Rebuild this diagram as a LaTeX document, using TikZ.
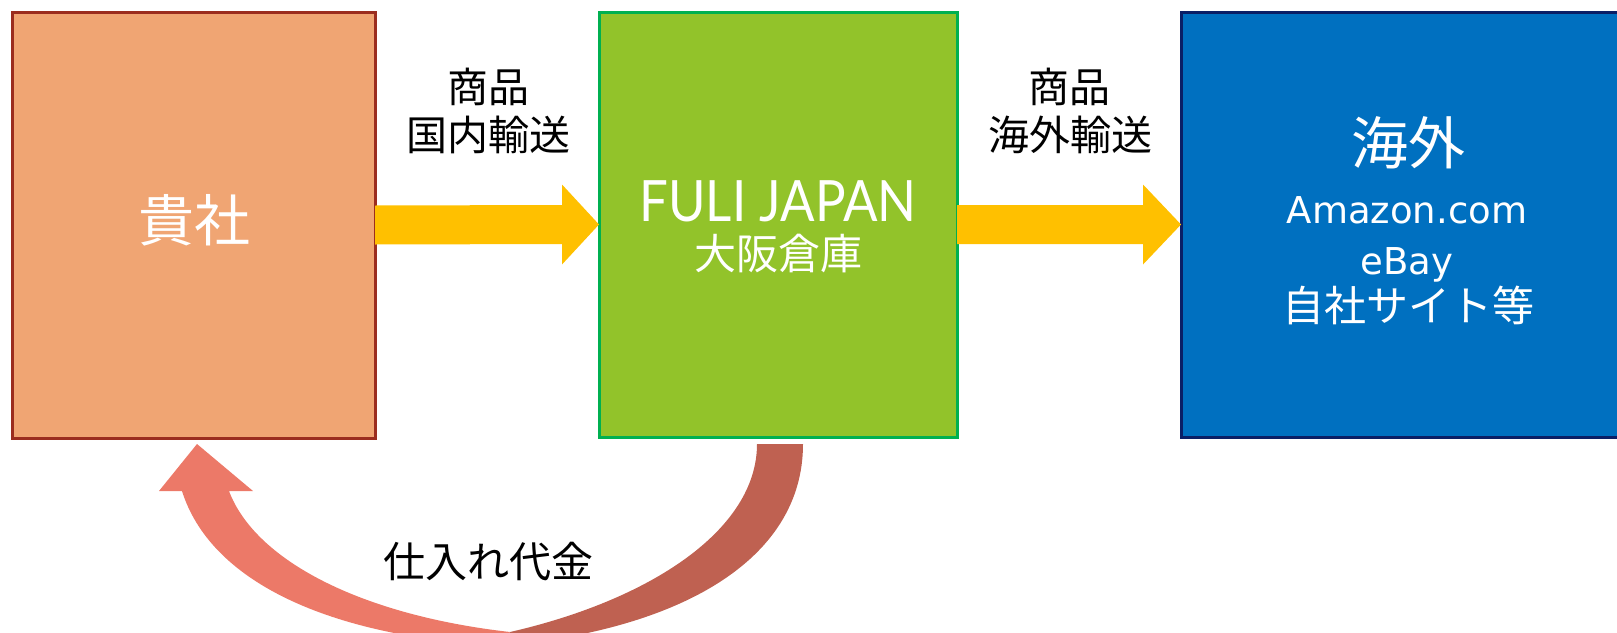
\documentclass[tikz,border=0pt]{standalone}
\usepackage{graphicx}
\usepackage{fontspec}
\setmainfont{Noto Sans CJK JP}
\newfontfamily\jpf{Noto Sans CJK JP}
\newfontfamily\latf{Lato}
\newfontfamily\dvf{DejaVu Sans}
\definecolor{peach}{HTML}{F0A573}
\definecolor{peachline}{HTML}{9B2D1F}
\definecolor{lgreen}{HTML}{92C32A}
\definecolor{gline}{HTML}{00B050}
\definecolor{blu}{HTML}{0070C0}
\definecolor{bline}{HTML}{0A1F66}
\definecolor{gold}{HTML}{FFC000}
\definecolor{arrlight}{HTML}{EC7968}
\definecolor{arrdark}{HTML}{BF6151}
\tikzset{
  boxbase/.style={rectangle, line width=3pt, inner sep=0pt, outer sep=0pt},
  wtext/.style={text=white, inner sep=0pt},
  btext/.style={text=black, inner sep=0pt},
}
\begin{document}
\begin{tikzpicture}[x=1pt,y=-1pt]
\path[use as bounding box] (0,0) rectangle (1617,632);
\clip (0,0) rectangle (1617,632);
% boxes
\node[boxbase, draw=peachline, fill=peach, minimum width=363pt, minimum height=426pt] (b1) at (193.5,225) {};
\node[boxbase, draw=gline, fill=lgreen, minimum width=358pt, minimum height=425pt] (b2) at (778,224.5) {};
\node[boxbase, draw=bline, fill=blu, minimum width=459pt, minimum height=425pt] (b3) at (1410.5,224.5) {};
% box texts
\node[wtext] (t1) at (194,220) {\jpf\fontsize{56}{60}\selectfont 貴社};
\node[wtext, anchor=base] (t2a) at (778,221) {\scalebox{0.895}[1]{\latf\fontsize{57}{60}\selectfont FULI JAPAN}};
\node[wtext] (t2b) at (778,254) {\jpf\fontsize{42}{46}\selectfont 大阪倉庫};
\node[wtext] (t3a) at (1408,143) {\jpf\fontsize{57}{60}\selectfont 海外};
\node[wtext, anchor=base] (t3b) at (1407,223) {\dvf\fontsize{37}{40}\selectfont Amazon.com};
\node[wtext, anchor=base] (t3c) at (1407,274) {\dvf\fontsize{37}{40}\selectfont eBay};
\node[wtext] (t3d) at (1408,305) {\jpf\fontsize{42}{46}\selectfont 自社サイト等};
% yellow arrows
\fill[gold] ([yshift=19.5pt]b1.east) -- ([xshift=-37pt,yshift=19.5pt]b2.west) -- ([xshift=-37pt,yshift=40pt]b2.west) -- (b2.west)
  -- ([xshift=-37pt,yshift=-40pt]b2.west) -- ([xshift=-37pt,yshift=-19.5pt]b2.west) -- ([yshift=-19.5pt]b1.east) -- cycle;
\fill[gold] ([yshift=19.5pt]b2.east) -- ([xshift=-38pt,yshift=19.5pt]b3.west) -- ([xshift=-38pt,yshift=40pt]b3.west) -- (b3.west)
  -- ([xshift=-38pt,yshift=-40pt]b3.west) -- ([xshift=-38pt,yshift=-19.5pt]b3.west) -- ([yshift=-19.5pt]b2.east) -- cycle;
% arrow labels
\node[btext] (l1a) at (488,87) {\jpf\fontsize{41}{46}\selectfont 商品};
\node[btext] (l1b) at (488,135) {\jpf\fontsize{41}{46}\selectfont 国内輸送};
\node[btext] (l2a) at (1069,87) {\jpf\fontsize{41}{46}\selectfont 商品};
\node[btext] (l2b) at (1070,135) {\jpf\fontsize{41}{46}\selectfont 海外輸送};
% curved arrow
\fill[arrdark] (757,444) .. controls (757,530) and (650,600) .. (510,632) -- (500,646)
  .. controls (680,630) and (803,560) .. (803,444) -- cycle;
\fill[arrlight] (159,491) -- (197,444) -- (253,491) -- (229,491)
  .. controls (255,560) and (360,615) .. (510,632) -- (500,646)
  .. controls (325,636) and (210,580) .. (182,491) -- cycle;
\node[btext] (l3) at (488,562) {\jpf\fontsize{42}{46}\selectfont 仕入れ代金};
\end{tikzpicture}
\end{document}
